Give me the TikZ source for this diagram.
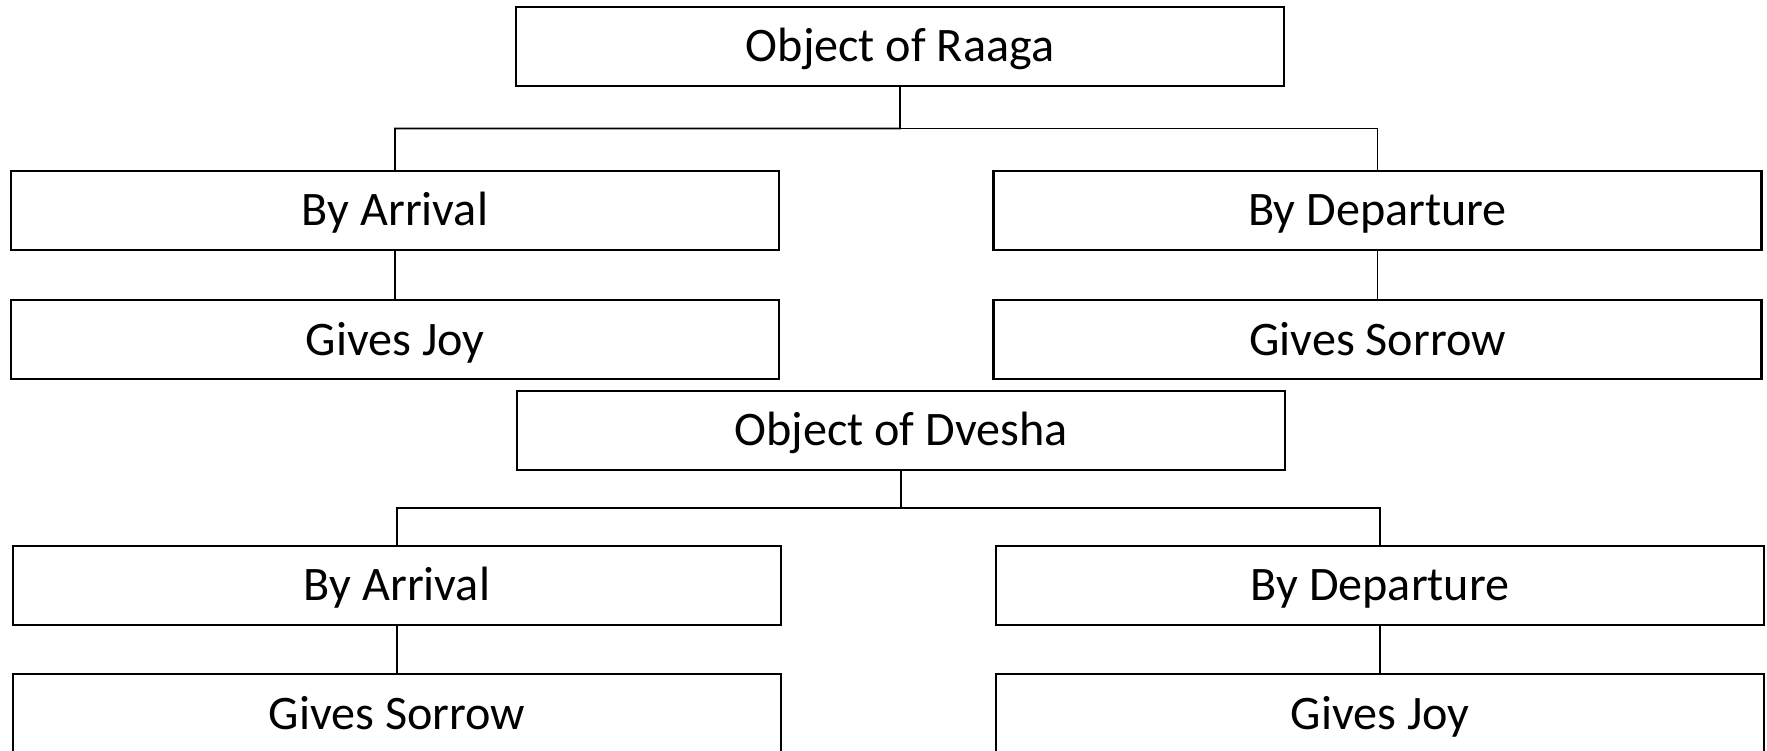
\documentclass[tikz,border=0pt]{standalone}
\usepackage{fontspec}
\setmainfont{Carlito}
\usepackage{tikz}
\usetikzlibrary{
    positioning,           % Relative positioning
    calc                   % Coordinate calculations
}

\tikzset{
    catbox/.style={draw,line width=0.65pt,minimum width=7.68cm,minimum height=0.79cm,
        inner sep=0pt,text height=8.8pt,text depth=0pt,
        font=\fontsize{13.7}{16}\selectfont},
    tree/.style={line width=0.45pt}
}

\begin{document}
\begin{tikzpicture}
    \useasboundingbox (0,0) rectangle (17.67,-7.51);
    % Raaga
    \node[catbox] (raaga) at (9.00,-0.465) {Object of Raaga};
    \node[catbox] (arrA) at (3.95,-2.105) {By Arrival};
    \node[catbox] (depA) at (13.775,-2.105) {By Departure};
    \node[catbox,below=0.48cm of arrA] (joyA) {Gives Joy};
    \node[catbox,below=0.48cm of depA] (sorA) {Gives Sorrow};
    % Dvesha
    \node[catbox] (dvesha) at (9.01,-4.305) {Object of Dvesha};
    \node[catbox] (arrD) at (3.97,-5.855) {By Arrival};
    \node[catbox] (depD) at (13.80,-5.855) {By Departure};
    \node[catbox,below=0.47cm of arrD] (sorD) {Gives Sorrow};
    \node[catbox,below=0.47cm of depD] (joyD) {Gives Joy};
    % connectors
    \coordinate (rj) at ($(raaga.south)!0.5!(raaga.south|-arrA.north)$);
    \coordinate (dj) at ($(dvesha.south)!0.5!(dvesha.south|-arrD.north)$);
    \draw[tree] (raaga.south) -- (rj) -| (arrA.north);
    \draw[tree] (rj) -| (depA.north);
    \draw[tree] (arrA) -- (joyA);
    \draw[tree] (depA) -- (sorA);
    \draw[tree] (dvesha.south) -- (dj) -| (arrD.north);
    \draw[tree] (dj) -| (depD.north);
    \draw[tree] (arrD) -- (sorD);
    \draw[tree] (depD) -- (joyD);
\end{tikzpicture}
\end{document}
